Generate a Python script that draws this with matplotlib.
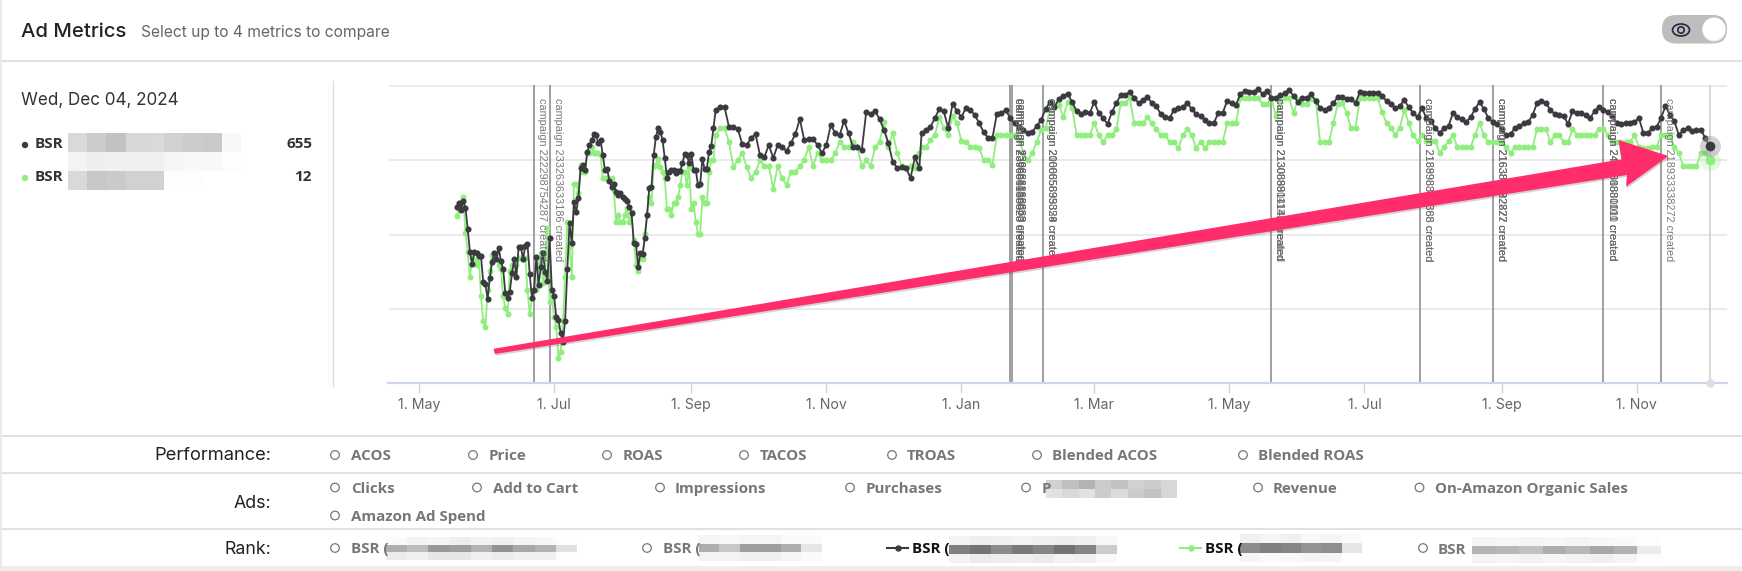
import numpy as np
import matplotlib
matplotlib.use("Agg")
import matplotlib.pyplot as plt
import matplotlib.dates as mdates
from matplotlib.patches import Polygon, Circle, FancyBboxPatch, Ellipse

W, H = 1742, 571

# ---- data: series heights (gridlines at 74, 148, 223, 297) ----
section_starts = ["2023-05-18", "2023-09-14", "2023-12-14", "2024-03-09", "2024-06-03", "2024-09-01"]
section_steps = [1, 2, 2, 2, 2, 2]

dark_a = [176,180,173,182,175,154,131,119,131,130,127,127,101,99,84,105,121,130,124,135,122,114,90,85,91,110,124,106,136,136,124,137,139,109,85,93,126,98,116,130,111,102,145,93,87,66,63,50,41,62,114,
          160,140,181,171,185,215,218,213,231,238,243,249,248,240,243,228,213,214,202,196,199,191,188,190,186,184,182,176,170,140,139,116,130,129,145,168,195,196,228,246,255,251,243,225,205,211,213,213,210,212,212,220,229,228,220,229,213,213,198,199,224,214,214,231,237,255,273]
green_a = [167,173,175,186,150,131,106,125,123,118,126,87,62,56,93,112,128,130,130,118,114,87,75,69,112,118,118,118,125,125,125,125,93,69,85,93,93,120,130,100,110,155,81,87,66,56,25,31,62,106,161,
           137,106,199,199,190,218,211,211,230,230,236,230,230,230,228,205,205,205,203,205,193,161,168,161,161,168,175,161,171,143,118,112,125,124,149,168,186,180,217,218,224,216,211,205,174,174,168,180,180,186,198,211,211,198,216,174,180,161,149,149,186,180,180,211,223,223,248]
dark_b = [276,276,256,256,254,239,238,245,249,228,226,238,225,238,236,232,240,249,264,243,244,244,238,230,238,258,250,248,262,250,236,236,233,271,269,272,264,253,240,221,215,216,215,205,226,215]
green_b = [255,255,241,216,223,230,216,205,211,223,217,217,194,217,205,198,211,211,217,223,236,217,230,223,223,223,230,241,236,236,241,236,217,223,217,236,241,261,236,250,230,217,215,217,215,230]
dark_c = [250,253,256,265,274,272,255,279,272,266,275,273,268,260,251,245,245,269,270,273,265,260,256,253,250,251,257,263,274,281,276,284,287,289,281,272,269,271,270,281,270,265,259]
green_c = [236,236,243,248,266,255,248,267,260,242,241,236,236,235,223,223,218,248,248,248,248,248,243,230,223,230,241,253,255,273,278,278,266,281,275,248,248,248,248,260,248,241,248]
dark_d = [271,280,288,288,291,285,280,283,286,280,277,269,266,265,273,275,276,280,274,269,267,263,260,260,270,270,282,280,278,289,292,291,291,294,289,292,285,285,288,290,293,287,281]
green_d = [248,254,280,280,285,260,260,260,266,260,254,248,248,241,241,235,248,254,248,235,241,235,241,241,241,241,260,260,260,285,285,285,285,285,279,279,285,267,281,285,285,270,283]
dark_e = [285,285,289,282,275,273,275,280,286,286,284,284,280,291,290,290,290,290,287,282,279,275,277,283,276,270,266,275,265,262,255,250,255,257,270,266,264,261,266,274,281,274,265,261,259]
green_e = [279,279,284,283,241,241,241,260,279,280,270,255,255,285,285,285,285,285,271,260,255,248,255,273,260,248,242,248,242,242,242,230,236,242,248,236,236,236,236,248,260,248,241,241,241]
dark_f = [254,248,249,255,257,260,261,268,280,282,280,273,269,268,267,259,272,270,270,268,265,272,276,273,271,267,260,259,260,260,261,265,250,250,255,256,265,277,268,262,248,253,255,252,253,253,245,237]
green_f = [241,236,230,236,236,236,236,236,254,254,254,241,248,248,241,241,254,248,248,248,248,248,254,254,248,241,241,241,241,241,248,236,235,235,236,236,248,248,248,236,230,217,217,217,217,230,230,223]

dark_sections = [dark_a, dark_b, dark_c, dark_d, dark_e, dark_f]
green_sections = [green_a, green_b, green_c, green_d, green_e, green_f]

campaign_dates = ["2023-06-22", "2023-06-29", "2024-01-23", "2024-01-24", "2024-02-07",
                  "2024-05-20", "2024-07-26", "2024-08-28", "2024-10-17", "2024-11-12"]
campaign_labels = [["campaign 222298754287 created"],
                   ["campaign 233263633186 created"],
                   ["campaign 239686136620 created", "campaign 239681188823 created", "campaign 239664618623 created"],
                   ["campaign 239686168860 created", "campaign 239661186033 created", "campaign 239668816663 created"],
                   ["campaign 210085695324 created", "campaign 200865893859 created", "campaign 208085839328 created"],
                   ["campaign 213088904141 created", "campaign 213088811138 created", "campaign 213089811141 created"],
                   ["campaign 218998393368 created", "campaign 218898888388 created"],
                   ["campaign 216388922872 created", "campaign 216389382827 created", "campaign 216388892227 created"],
                   ["campaign 243888880011 created", "campaign 243881880110 created", "campaign 243800881101 created"],
                   ["campaign 218933338272 created"]]

tick_dates = ["2023-05-01", "2023-07-01", "2023-09-01", "2023-11-01", "2024-01-01",
              "2024-03-01", "2024-05-01", "2024-07-01", "2024-09-01", "2024-11-01"]
tick_labels = ["1. May", "1. Jul", "1. Sep", "1. Nov", "1. Jan", "1. Mar", "1. May", "1. Jul", "1. Sep", "1. Nov"]
grid_levels = [74, 148, 223, 297]
crosshair_date = "2024-12-04"

perf_items = ["ACOS", "Price", "ROAS", "TACOS", "TROAS", "Blended ACOS", "Blended ROAS"]
ads_items = ["Clicks", "Add to Cart", "Impressions", "Purchases", "P", "Revenue", "On-Amazon Organic Sales"]
legend_rows = [("BSR", "655"), ("BSR", "12")]

DARK = "#3a3a40"
GREEN = "#90ee7e"
UI_FONT = ["Inter", "DejaVu Sans"]
BOLD_FONT = ["Open Sans", "DejaVu Sans"]


def to_num(s):
    return mdates.date2num(np.datetime64(s))


def expand(starts, steps, sections):
    xs, ys = [], []
    for st, step, vals in zip(starts, steps, sections):
        s0 = to_num(st)
        xs.extend(s0 + step * i for i in range(len(vals)))
        ys.extend(vals)
    return np.array(xs), np.array(ys)


fig = plt.figure(figsize=(W / 100, H / 100), dpi=100, facecolor="white")

# ---- page furniture, in screen pixels ----
ui = fig.add_axes([0, 0, 1, 1], zorder=0)
ui.set_xlim(0, W)
ui.set_ylim(H, 0)
ui.axis("off")


def hline(y, x0=1, x1=W, c="#dedede", lw=1.3):
    ui.plot([x0, x1], [y, y], color=c, lw=lw, solid_capstyle="butt")


hline(60.5)
hline(436)
hline(473.3)
hline(529.3)
ui.plot([1, 1], [0, 566], color="#e8e8e8", lw=1.2)
ui.plot([332.6, 332.6], [81, 386], color="#dcdcdc", lw=1)
ui.fill_between([0, W], 565.5, 571, color="#eeeeee", lw=0)

ui.text(21, 32, "Ad Metrics", fontsize=14.6, color="#222222", va="center", family=UI_FONT, fontweight="medium")
ui.text(141, 33, "Select up to 4 metrics to compare", fontsize=11.2, color="#666666", va="center", family=UI_FONT)
ui.text(21, 101, "Wed, Dec 04, 2024", fontsize=12.3, color="#333333", va="center", family=UI_FONT)

for (name, val), y, col in zip(legend_rows, [144, 177], [DARK, GREEN]):
    ui.add_patch(Circle((25, y + 1), 3.2, color=col, lw=0))
    ui.text(35, y, name, fontsize=11, fontweight="bold", color="#333333", va="center", family=BOLD_FONT)
    ui.text(312, y, val, fontsize=11, fontweight="bold", color="#333333", va="center", ha="right", family=BOLD_FONT)


def blur(x0, x1, y0, y1, rows):
    arr = np.array(rows, dtype=float)
    ui.imshow(arr, extent=(x0, x1, y1, y0), cmap="gray", vmin=0, vmax=1,
              interpolation="nearest", aspect="auto", zorder=1)


blur(68, 240, 133, 190, [
    [.85, .80, .76, .84, .85, .82, .80, .79, .97],
    [.95, .93, .94, .94, .94, .96, .97, .97, .99],
    [.85, .78, .79, .82, .82, .99, .99, 1, 1]])
blur(1046, 1177, 480, 498, [[.82, .75, .70, .80, .76, .82, .80, .84], [.88, .85, .88, .80, .86, .80, .76, .84]])
blur(386, 577, 537, 560, [
    [.98, .95, .96, .93, .95, .94, .96, .97, .99],
    [.68, .74, .60, .62, .70, .58, .66, .70, .88],
    [.92, .94, .90, .90, .94, .92, .94, .94, .99]])
blur(699, 821, 535, 561, [
    [.96, .97, .96, .96, .98, .98],
    [.68, .78, .62, .62, .68, .90],
    [.95, .95, .94, .94, .96, .98]])
blur(949, 1117, 536, 563, [
    [.95, .93, .94, .95, .94, .93, .94, .97],
    [.50, .45, .55, .48, .52, .45, .52, .80],
    [.95, .92, .93, .94, .92, .95, .94, .98]])
blur(1240, 1362, 534, 562, [
    [.94, .96, .94, .97, .96, .98],
    [.55, .50, .52, .58, .56, .90],
    [.96, .98, .97, .96, .96, 1.0]])
blur(1472, 1660, 537, 563, [
    [.96, .97, .96, .97, .96, .97, .98, .99],
    [.70, .72, .76, .68, .72, .66, .70, .92],
    [.95, .96, .95, .96, .95, .94, .96, .99]])
ui.set_xlim(0, W)
ui.set_ylim(H, 0)

for txt, y, fs in [("Performance:", 456, 13.2), ("Ads:", 503, 12.8), ("Rank:", 549, 12.8)]:
    ui.text(271, y, txt, fontsize=fs, color="#222222", ha="right", va="center", family=UI_FONT)


def option(cx, tx, y, label, color="#777777"):
    ui.add_patch(Circle((cx, y - 1.5), 4.3, fc="white", ec="#777777", lw=0.9, zorder=2))
    ui.text(tx, y, label, fontsize=10.9, fontweight="bold", color=color, va="center", family=BOLD_FONT, zorder=3)


for cx, tx, label in zip([335, 473, 607, 744, 892, 1037, 1243], [351, 489, 623, 760, 907, 1052, 1258], perf_items):
    option(cx, tx, 456.5, label)
for cx, tx, label in zip([335, 477, 660, 850, 1026, 1258, 1419.5], [351, 493, 675, 866, 1042, 1273, 1435], ads_items):
    option(cx, tx, 489, label)
option(335, 351, 517, "Amazon Ad Spend")
option(335, 351, 549.5, "BSR (")
option(647, 663, 549.5, "BSR (")
option(1423, 1438, 549.5, "BSR")
for x0, x1, tx, col in [(887, 908, 912, DARK), (1180, 1201, 1205, GREEN)]:
    ui.plot([x0, x1], [548, 548], color=col, lw=1.5)
    ui.plot([(x0 + x1) / 2], [548], "o", color=col, ms=3.6)
    ui.text(tx, 549.5, "BSR (", fontsize=10.9, fontweight="bold", color="#111111", va="center", family=BOLD_FONT)

# toggle
ui.add_patch(FancyBboxPatch((1676, 29), 37, 0.5, boxstyle="round,pad=14,rounding_size=14", fc="#bdbdbd", ec="none"))
ui.add_patch(Circle((1714, 30), 11.8, fc="#e2e2e2", ec="none"))
ui.add_patch(Circle((1714, 29), 11.5, fc="white", ec="none"))
ui.add_patch(Ellipse((1681, 30), 17, 12, fc="none", ec="#1f2a3c", lw=1.2))
ui.add_patch(Circle((1681, 30), 3.2, fc="none", ec="#1f2a3c", lw=1.2))

# ---- the chart ----
PX_PER_DAY = 2.214
left_px, right_px, top_px, bottom_px = 388.5, 1727, 85.3, 383
ax = fig.add_axes([left_px / W, 1 - bottom_px / H, (right_px - left_px) / W, (bottom_px - top_px) / H],
                  zorder=1, facecolor="none")
x0_num = to_num("2023-05-01")
ax.set_xlim(x0_num + (left_px - 419) / PX_PER_DAY, x0_num + (right_px - 419) / PX_PER_DAY)
ax.set_ylim(0, 297.7)
for s in ["top", "left", "right"]:
    ax.spines[s].set_visible(False)
ax.spines["bottom"].set_color("#ccd6eb")
ax.spines["bottom"].set_linewidth(1.6)
ax.set_yticks(grid_levels)
ax.set_yticklabels([])
ax.tick_params(axis="y", length=0)
ax.grid(axis="y", color="#e6e6e6", lw=1.2)
ax.set_axisbelow(True)
ax.set_xticks([to_num(d) for d in tick_dates])
ax.set_xticklabels(tick_labels, fontsize=10.2, color="#666666", family=UI_FONT)
ax.tick_params(axis="x", length=7, width=1, color="#ccd6eb", pad=3.5)

for d in campaign_dates:
    ax.axvline(to_num(d), color="#999999", lw=1.3, zorder=1.5)

xd, yd = expand(section_starts, section_steps, dark_sections)
xg, yg = expand(section_starts, section_steps, green_sections)
cross = to_num(crosshair_date)
ax.axvline(cross, color="#d0d0d0", lw=1.2, zorder=1.6)
ax.plot(xg, yg, "-o", color=GREEN, lw=1.3, ms=4.3, mew=0, zorder=2, clip_on=False)
ax.plot(xd, yd, "-o", color=DARK, lw=1.3, ms=4.4, mew=0, zorder=3, clip_on=False)
ax.plot([xg[-1]], [yg[-1]], "o", color=GREEN, ms=15, mew=0, alpha=0.25, zorder=3.5)
ax.plot([xg[-1]], [yg[-1]], "o", color=GREEN, ms=7, mew=0, zorder=3.6)
ax.plot([xd[-1]], [yd[-1]], "o", color="#9a9a9a", ms=15, mew=0, alpha=0.45, zorder=3.7)
ax.plot([xd[-1]], [yd[-1]], "o", color=DARK, ms=7, mew=0, zorder=3.8)
ax.plot([cross], [0], "o", color="#dddddd", ms=6, mew=0, zorder=4, clip_on=False)

for d, labels in zip(campaign_dates, campaign_labels):
    for lab in labels:
        ax.annotate(lab, xy=(to_num(d), 297.7), xycoords="data", xytext=(5.8, -9.5), textcoords="offset points",
                    rotation=270, ha="center", va="top", fontsize=7.8, color="#6b6b6b", alpha=0.9,
                    family=["Liberation Sans", "DejaVu Sans"], zorder=5)

# ---- pink arrow drawn over the screenshot ----
top = fig.add_axes([0, 0, 1, 1], zorder=2, facecolor="none")
top.set_xlim(0, W)
top.set_ylim(H, 0)
top.axis("off")
arrow = np.array([[493.5, 348.8], [1621.4, 159.3], [1618.4, 140], [1668.5, 156], [1626, 186.7], [1627, 175], [495, 354]])
top.add_patch(Polygon(arrow + [1, 1.8], closed=True, fc="#555555", ec="none", alpha=0.25))
top.add_patch(Polygon(arrow, closed=True, fc="#ff2d6b", ec="none"))

fig.savefig("out.png", dpi=100, facecolor="white")
